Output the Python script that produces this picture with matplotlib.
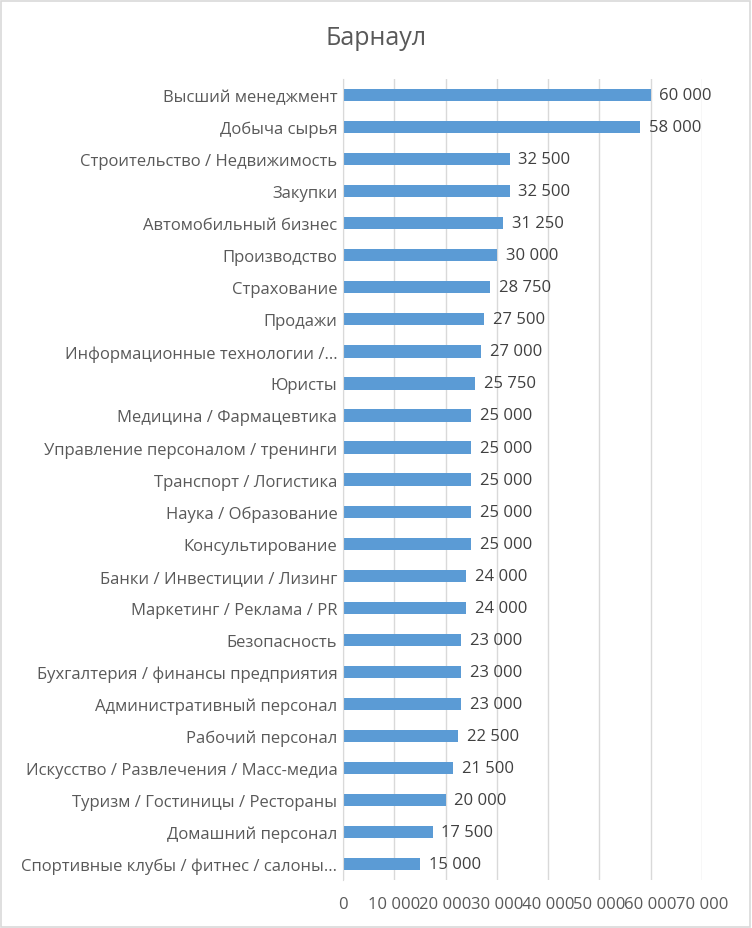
import matplotlib.pyplot as plt
from matplotlib.patches import Rectangle
from matplotlib.ticker import FuncFormatter

plt.switch_backend('Agg')
plt.rcParams['font.family'] = ['Open Sans', 'DejaVu Sans']

TITLE = "Барнаул"
categories = [
    "Высший менеджмент",
    "Добыча сырья",
    "Строительство / Недвижимость",
    "Закупки",
    "Автомобильный бизнес",
    "Производство",
    "Страхование",
    "Продажи",
    "Информационные технологии /...",
    "Юристы",
    "Медицина / Фармацевтика",
    "Управление персоналом / тренинги",
    "Транспорт / Логистика",
    "Наука / Образование",
    "Консультирование",
    "Банки / Инвестиции / Лизинг",
    "Маркетинг / Реклама / PR",
    "Безопасность",
    "Бухгалтерия / финансы предприятия",
    "Административный персонал",
    "Рабочий персонал",
    "Искусство / Развлечения / Масс-медиа",
    "Туризм / Гостиницы / Рестораны",
    "Домашний персонал",
    "Спортивные клубы / фитнес / салоны...",
]
values = [60000, 58000, 32500, 32500, 31250, 30000, 28750, 27500, 27000, 25750,
          25000, 25000, 25000, 25000, 25000, 24000, 24000, 23000, 23000, 23000,
          22500, 21500, 20000, 17500, 15000]
x_ticks = [0, 10000, 20000, 30000, 40000, 50000, 60000, 70000]

BAR_COLOR = '#5b9bd5'
TEXT_COLOR = '#595959'
GRID_COLOR = '#d9d9d9'


def fmt(v):
    return f"{int(v):,}".replace(",", " ")


fig = plt.figure(figsize=(7.52, 9.29), dpi=100)
ax = fig.add_axes([0.456, 0.0516, 0.4775, 0.8622])

pos = list(range(len(categories)))
ax.barh(pos, values, height=0.38, color=BAR_COLOR, zorder=3)

for p, v in zip(pos, values):
    ax.text(v + 1700, p, fmt(v), va='center', ha='left', fontsize=12,
            color='#404040', zorder=4)

ax.set_ylim(len(categories) - 0.5, -0.5)
ax.set_xlim(0, 70000)
ax.set_yticks(pos)
ax.set_yticklabels(categories, fontsize=12, color=TEXT_COLOR)
ax.set_xticks(x_ticks)
ax.xaxis.set_major_formatter(FuncFormatter(lambda v, _: fmt(v)))
ax.tick_params(axis='x', labelsize=12, labelcolor=TEXT_COLOR, length=0, pad=11.5)
ax.tick_params(axis='y', length=0, pad=4)

ax.grid(axis='x', color=GRID_COLOR, linewidth=1, zorder=0)
for s in ['top', 'right', 'bottom']:
    ax.spines[s].set_visible(False)
ax.spines['left'].set_color(GRID_COLOR)
ax.spines['left'].set_zorder(5)

fig.text(0.5, 0.959, TITLE, ha='center', va='center', fontsize=18, color=TEXT_COLOR)

fig.patches.append(Rectangle((0.001, 0.001), 0.997, 0.997, transform=fig.transFigure,
                             fill=False, edgecolor=GRID_COLOR, linewidth=1.2))

fig.savefig('out.png', dpi=100, facecolor='white')
